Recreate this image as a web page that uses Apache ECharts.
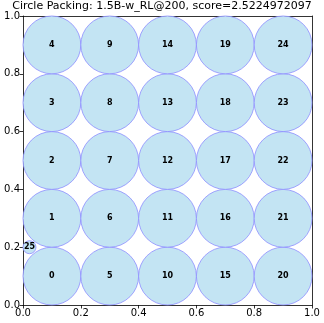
<!DOCTYPE html>
<html>
<head>
<meta charset="utf-8">
<script src="https://cdn.jsdelivr.net/npm/echarts@6/dist/echarts.min.js"></script>
<style>
html, body { margin: 0; padding: 0; background: #fff; }
#chart { width: 324px; height: 323px; }
</style>
</head>
<body>
<div id="chart"></div>
<script>
// circle data
var circleX = [0.1, 0.1, 0.1, 0.1, 0.1, 0.3, 0.3, 0.3, 0.3, 0.3, 0.5, 0.5, 0.5, 0.5, 0.5,
  0.7, 0.7, 0.7, 0.7, 0.7, 0.9, 0.9, 0.9, 0.9, 0.9, 0.0225];
var circleY = [0.1, 0.3, 0.5, 0.7, 0.9, 0.1, 0.3, 0.5, 0.7, 0.9, 0.1, 0.3, 0.5, 0.7, 0.9,
  0.1, 0.3, 0.5, 0.7, 0.9, 0.1, 0.3, 0.5, 0.7, 0.9, 0.2];
var circleR = [0.1, 0.1, 0.1, 0.1, 0.1, 0.1, 0.1, 0.1, 0.1, 0.1, 0.1, 0.1, 0.1, 0.1, 0.1,
  0.1, 0.1, 0.1, 0.1, 0.1, 0.1, 0.1, 0.1, 0.1, 0.1, 0.0225];
var circleLabels = circleX.map(function (v, i) { return String(i); });
var tickLabels = ["0.0", "0.2", "0.4", "0.6", "0.8", "1.0"];
var titleText = "Circle Packing: 1.5B-w_RL@200, score=2.5224972097";

var font = "DejaVu Sans";
var data = circleX.map(function (x, i) {
  return [x, circleY[i], circleR[i], circleLabels[i]];
});

var chart = echarts.init(document.getElementById("chart"));

function axisCommon() {
  return {
    type: "value",
    min: 0,
    max: 1,
    interval: 0.2,
    axisLine: { show: true, onZero: false, lineStyle: { color: "#000", width: 0.8 } },
    axisTick: { show: true, length: 3.5, lineStyle: { color: "#000", width: 0.8 } },
    splitLine: { show: false },
    axisLabel: {
      color: "#000",
      fontFamily: font,
      fontSize: 10,
      formatter: function (v) { return tickLabels[Math.round(v / 0.2)]; }
    }
  };
}

var xAx = axisCommon();
xAx.axisLabel.margin = 3;
var yAx = axisCommon();
yAx.axisLabel.margin = 3;

var xTop = axisCommon();
xTop.position = "top";
xTop.axisTick = { show: false };
xTop.axisLabel = { show: false };
var yRight = axisCommon();
yRight.position = "right";
yRight.axisTick = { show: false };
yRight.axisLabel = { show: false };

chart.setOption({
  animation: false,
  title: {
    text: titleText,
    left: "center",
    top: 1,
    padding: [0, 0, 0, 7],
    textStyle: { fontFamily: font, fontSize: 11, fontWeight: "normal", color: "#000" }
  },
  grid: { left: 23, right: 12, top: 16, bottom: 18 },
  xAxis: [xAx, xTop],
  yAxis: [yAx, yRight],
  series: [{
    type: "custom",
    xAxisIndex: 0,
    yAxisIndex: 0,
    data: data,
    clip: false,
    renderItem: function (params, api) {
      var c = api.coord([api.value(0), api.value(1)]);
      var r = api.size([api.value(2), 0])[0];
      return {
        type: "group",
        children: [{
          type: "circle",
          shape: { cx: c[0], cy: c[1], r: r },
          style: { fill: "#c3e4f3", stroke: "#8d8dff", lineWidth: 0.8 }
        }, {
          type: "text",
          style: {
            x: c[0], y: c[1],
            text: data[params.dataIndex][3],
            fill: "#000",
            font: "bold 8px " + font,
            align: "center",
            verticalAlign: "middle"
          }
        }]
      };
    }
  }]
});
</script>
</body>
</html>
